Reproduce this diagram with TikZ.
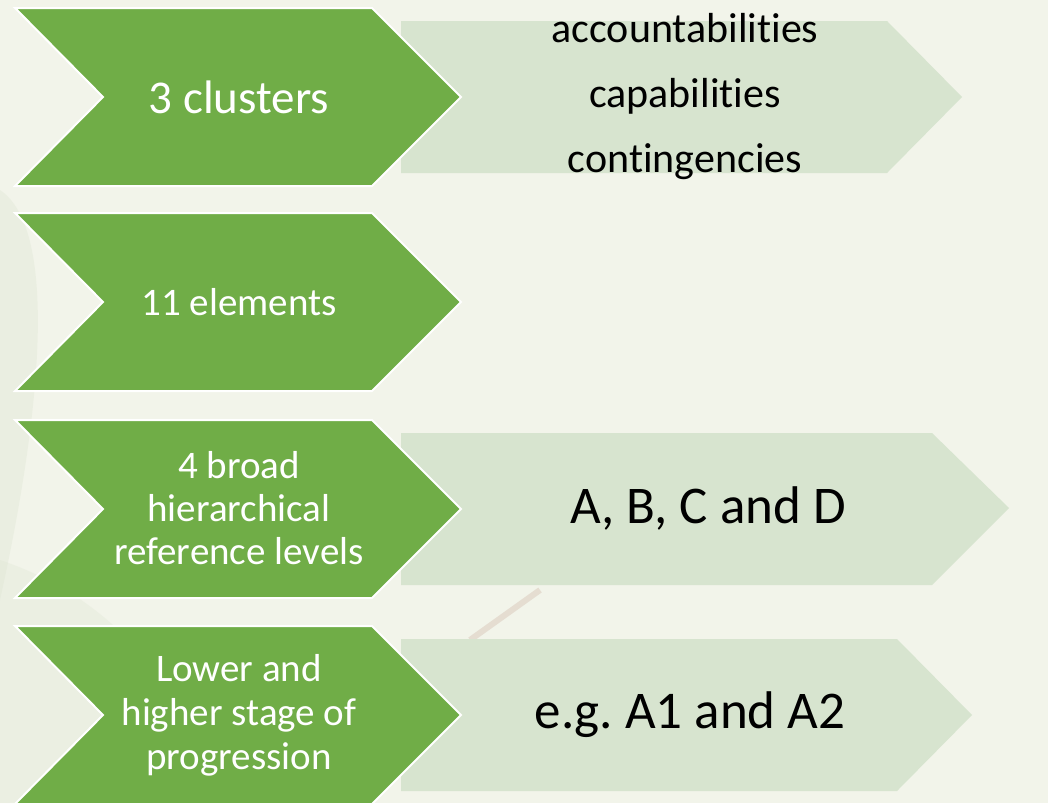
\documentclass[tikz,border=0pt]{standalone}
\usepackage{fontspec}
\setmainfont[Ligatures=NoCommon]{Carlito}
\definecolor{bgc}{HTML}{F2F4EA}
\definecolor{grn}{HTML}{70AD47}
\definecolor{lgrn}{HTML}{D7E4CF}
\definecolor{leaf}{HTML}{DDE5D2}
\definecolor{stem}{HTML}{C9A99A}
\tikzset{
  gchev/.style={fill=grn, draw=white, line width=2pt, line join=miter},
  lchev/.style={fill=lgrn, draw=none},
  gtext/.style={text=white, align=center, inner sep=0pt},
  ltext/.style={text=black, align=center, inner sep=0pt},
}
\newcommand{\gchevron}[1]{% top y
  \path[gchev] (15,#1) -- (372,#1) -- (461,#1+89) -- (372,#1+178) -- (15,#1+178) -- (103,#1+89) -- cycle;}
\begin{document}
\frenchspacing
\begin{tikzpicture}[x=1pt,y=-1pt]
\useasboundingbox (0,0) rectangle (1048,803);
\fill[bgc] (0,0) rectangle (1048,803);
% faint background photo hints
\fill[leaf, opacity=0.35] (0,190) .. controls (60,230) and (40,420) .. (0,600) -- cycle;
\fill[leaf, opacity=0.3] (0,560) .. controls (120,600) and (200,700) .. (190,803) -- (0,803) -- cycle;
\draw[stem, opacity=0.3, line width=6pt] (470,640) -- (540,590);
% light chevrons
\path[lchev] (401,21) -- (887,21) -- (962,97) -- (887,173) -- (401,173) -- cycle;
\path[lchev] (401,433) -- (932,433) -- (1009,508) -- (932,585) -- (401,585) -- cycle;
\path[lchev] (401,639) -- (897,639) -- (972,715) -- (897,791) -- (401,791) -- cycle;
% green chevrons
\gchevron{8}
\gchevron{213}
\gchevron{420}
\gchevron{626}
% texts
\node[gtext, font=\fontsize{47}{52}\selectfont] (t1) at (239,97) {3 clusters};
\node[gtext, font=\fontsize{39}{43}\selectfont] (t2) at (239,302) {11 elements};
\node[gtext, font=\fontsize{39}{43}\selectfont] (t3) at (239,508) {4 broad\\hierarchical\\reference levels};
\node[gtext, font=\fontsize{39}{44}\selectfont] (t4) at (239,715) {Lower and\\higher stage of\\progression};
\node[ltext, font=\fontsize{42}{65}\selectfont] (r1) at (685,97) {accountabilities\\capabilities\\contingencies};
\node[ltext, font=\fontsize{53}{60}\selectfont] (r3) at (708,508) {A, B, C and D};
\node[ltext, font=\fontsize{53}{60}\selectfont] (r4) at (690,715) {e.g. A1 and A2};
\end{tikzpicture}
\end{document}
